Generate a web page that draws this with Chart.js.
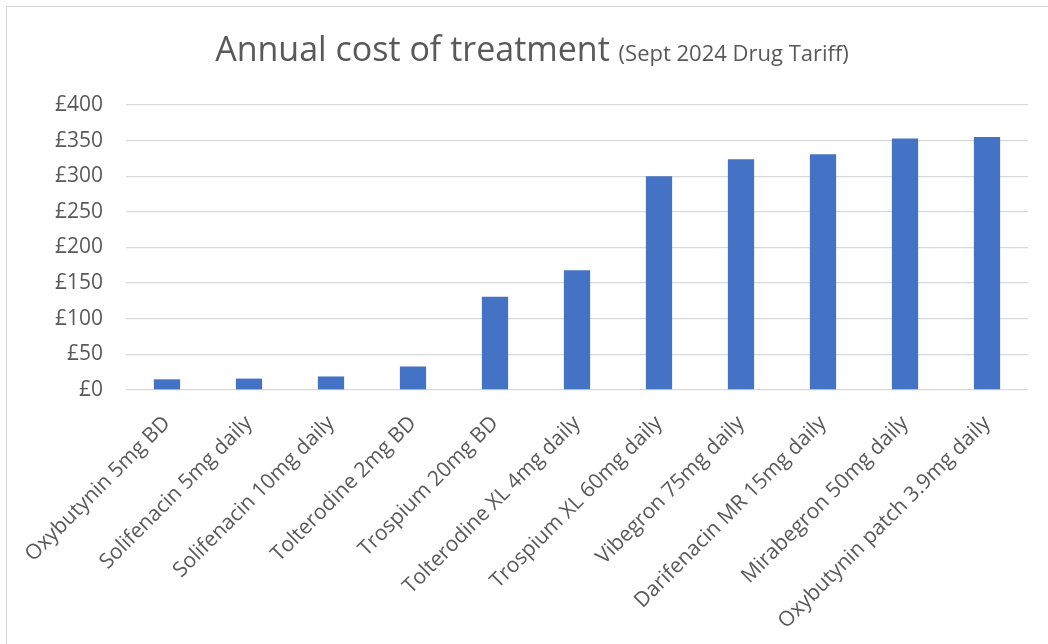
<!DOCTYPE html>
<html>
<head>
<meta charset="utf-8">
<script src="https://cdn.jsdelivr.net/npm/chart.js@4.4.1/dist/chart.umd.min.js"></script>
<style>
  html, body { margin: 0; padding: 0; background: #ffffff; }
  #wrap { position: relative; width: 1048px; height: 644px; overflow: hidden; }
  #frame { position: absolute; left: 6px; top: 6px; width: 1100px; height: 700px; border: 1px solid #d9d9d9; box-sizing: border-box; }
  canvas { position: absolute; left: 0; top: 0; }
</style>
</head>
<body>
<div id="wrap">
  <div id="frame"></div>
  <canvas id="c" width="1048" height="644"></canvas>
</div>
<script>
const titleMain = 'Annual cost of treatment';
const titleSub = '(Sept 2024 Drug Tariff)';
const categories = [
  'Oxybutynin 5mg BD',
  'Solifenacin 5mg daily',
  'Solifenacin 10mg daily',
  'Tolterodine 2mg BD',
  'Trospium 20mg BD',
  'Tolterodine XL 4mg daily',
  'Trospium XL 60mg daily',
  'Vibegron 75mg daily',
  'Darifenacin MR 15mg daily',
  'Mirabegron 50mg daily',
  'Oxybutynin patch 3.9mg daily'
];
const annualCost = [15, 16, 19, 33, 131, 168, 300, 324, 331, 353, 355];
const yMin = 0, yMax = 400, yStep = 50;
const currencySymbol = '£';

const FONT = "'Open Sans', sans-serif";
const TEXT = '#595959';

const titlePlugin = {
  id: 'mixedTitle',
  afterDraw(chart) {
    const ctx = chart.ctx;
    ctx.save();
    ctx.fillStyle = TEXT;
    ctx.textBaseline = 'alphabetic';
    ctx.font = "34px " + FONT;
    const w1 = ctx.measureText(titleMain + ' ').width;
    ctx.font = "22px " + FONT;
    const w2 = ctx.measureText(titleSub).width;
    const cx = 532;
    let x = cx - (w1 + w2) / 2;
    const y = 61;
    ctx.textAlign = 'left';
    ctx.font = "34px " + FONT;
    ctx.fillText(titleMain + ' ', x, y);
    ctx.font = "22px " + FONT;
    ctx.fillText(titleSub, x + w1, y);
    ctx.restore();
  }
};

new Chart(document.getElementById('c'), {
  type: 'bar',
  data: {
    labels: categories,
    datasets: [{
      data: annualCost,
      backgroundColor: '#4472C4',
      borderWidth: 0,
      barPercentage: 0.32,
      categoryPercentage: 1.0
    }]
  },
  options: {
    responsive: false,
    animation: false,
    devicePixelRatio: 1,
    layout: { padding: { top: 105, right: 20, left: 0, bottom: 0 } },
    plugins: {
      legend: { display: false },
      tooltip: { enabled: false },
      title: { display: false }
    },
    scales: {
      x: {
        grid: { display: false, drawTicks: false },
        border: { display: false },
        ticks: {
          color: TEXT,
          font: { family: FONT, size: 21 },
          maxRotation: 45,
          minRotation: 45,
          autoSkip: false,
          padding: 21
        },
        afterFit(s) { s.height = 644 - 390; }
      },
      y: {
        min: yMin,
        max: yMax,
        grid: { color: '#d9d9d9', lineWidth: 1.3, drawTicks: false },
        border: { display: false },
        ticks: {
          stepSize: yStep,
          color: TEXT,
          font: { family: FONT, size: 21 },
          padding: 23,
          callback: v => currencySymbol + v
        },
        afterFit(s) { s.width = 126; }
      }
    }
  },
  plugins: [titlePlugin]
});
</script>
</body>
</html>
